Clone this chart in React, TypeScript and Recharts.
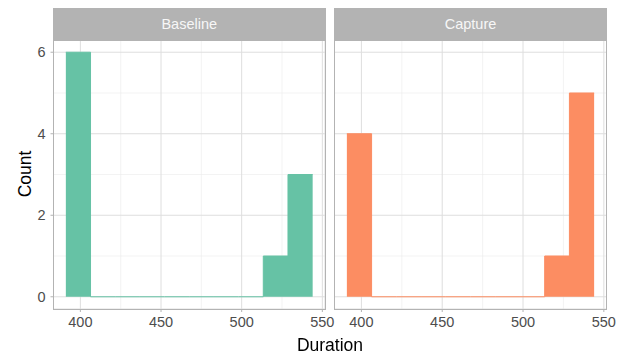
import React from "react";
import { AreaChart, Area, XAxis, YAxis, CartesianGrid } from "recharts";

const binEdges = [391, 406.3, 421.6, 436.9, 452.2, 467.5, 482.8, 498.1, 513.4, 528.7, 544];
const baselineCounts = [6, 0, 0, 0, 0, 0, 0, 0, 1, 3];
const captureCounts = [4, 0, 0, 0, 0, 0, 0, 0, 1, 5];
const panelNames = ["Baseline", "Capture"];
const xTicks = [400, 450, 500, 550];
const xMinor = [425, 475, 525];
const yTicks = [0, 2, 4, 6];
const yMinor = [1, 3, 5];

const buildData = (counts: number[]) =>
  binEdges.map((e, i) => ({ x: e, count: i < counts.length ? counts[i] : counts[counts.length - 1] }));

const FONT = "'Liberation Sans', Arial, sans-serif";
const PANEL_TOP = 40;
const PANEL_BOTTOM = 309;
const H = 355;
const TICK_FS = 14.5;

function Panel({ counts, color, left, width, plotLeft, plotRight, showY }: any) {
  const data = buildData(counts);
  const marginLeft = showY ? 0 : plotLeft - left;
  const yw = showY ? plotLeft - left : 0;
  const marginRight = left + width - plotRight;
  const xAxisH = 24;
  return (
    <div style={{ position: "absolute", left, top: 0 }}>
      <AreaChart
        width={width}
        height={H}
        data={data}
        margin={{ top: PANEL_TOP, right: marginRight, bottom: H - PANEL_BOTTOM - xAxisH, left: marginLeft }}
      >
        <CartesianGrid
          stroke="#EBEBEB"
          strokeWidth={0.6}
          horizontalValues={yMinor}
          verticalValues={xMinor}
        />
        <CartesianGrid stroke="#DEDEDE" strokeWidth={1} />
        <XAxis
          dataKey="x"
          type="number"
          domain={[383.35, 551.65]}
          ticks={xTicks}
          allowDataOverflow
          height={xAxisH}
          axisLine={false}
          tickSize={3}
          tickMargin={5}
          tickLine={{ stroke: "#B3B3B3" }}
          tick={{ fill: "#4D4D4D", fontSize: TICK_FS, fontFamily: FONT }}
          interval={0}
        />
        <YAxis
          type="number"
          domain={[-0.3, 6.3]}
          ticks={yTicks}
          allowDataOverflow
          hide={!showY}
          width={yw}
          axisLine={false}
          tickSize={3}
          tickMargin={5}
          tickLine={{ stroke: "#B3B3B3" }}
          tick={{ fill: "#4D4D4D", fontSize: TICK_FS, fontFamily: FONT }}
          interval={0}
        />
        <Area
          dataKey="count"
          type="stepAfter"
          baseValue={0}
          fill={color}
          fillOpacity={1}
          stroke={color}
          strokeWidth={1}
          isAnimationActive={false}
          dot={false}
          activeDot={false}
        />
      </AreaChart>
    </div>
  );
}

export default function App() {
  const panels = [
    { name: panelNames[0], counts: baselineCounts, color: "#66C2A5", left: 0, width: 345, plotLeft: 53.5, plotRight: 325, showY: true },
    { name: panelNames[1], counts: captureCounts, color: "#FC8D62", left: 330, width: 287, plotLeft: 334.5, plotRight: 606.5, showY: false },
  ];
  return (
    <div style={{ position: "fixed", left: 0, top: 0, width: 617, height: 355, background: "#fff", fontFamily: FONT }}>
      {panels.map((p) => (
        <React.Fragment key={p.name}>
          <Panel {...p} />
          <div
            style={{
              position: "absolute",
              left: p.plotLeft - 0.5,
              top: 8,
              width: p.plotRight - p.plotLeft + 1,
              height: PANEL_TOP - 8,
              background: "#B3B3B3",
              color: "#F7F7F7",
              fontSize: 14.5,
              lineHeight: `${PANEL_TOP - 8}px`,
              textAlign: "center",
            }}
          >
            {p.name}
          </div>
          <div
            style={{
              position: "absolute",
              left: p.plotLeft - 0.5,
              top: PANEL_TOP - 0.5,
              width: p.plotRight - p.plotLeft - 1,
              height: PANEL_BOTTOM - PANEL_TOP - 1,
              border: "1px solid #B3B3B3",
              pointerEvents: "none",
            }}
          />
        </React.Fragment>
      ))}
      <div
        style={{
          position: "absolute",
          left: 24.5,
          top: 174,
          transform: "translate(-50%, -50%) rotate(-90deg)",
          fontSize: 17.5,
          color: "#000",
          whiteSpace: "nowrap",
        }}
      >
        Count
      </div>
      <div
        style={{
          position: "absolute",
          left: 330,
          top: 345,
          transform: "translate(-50%, -50%)",
          fontSize: 17.5,
          color: "#000",
          whiteSpace: "nowrap",
        }}
      >
        Duration
      </div>
    </div>
  );
}
